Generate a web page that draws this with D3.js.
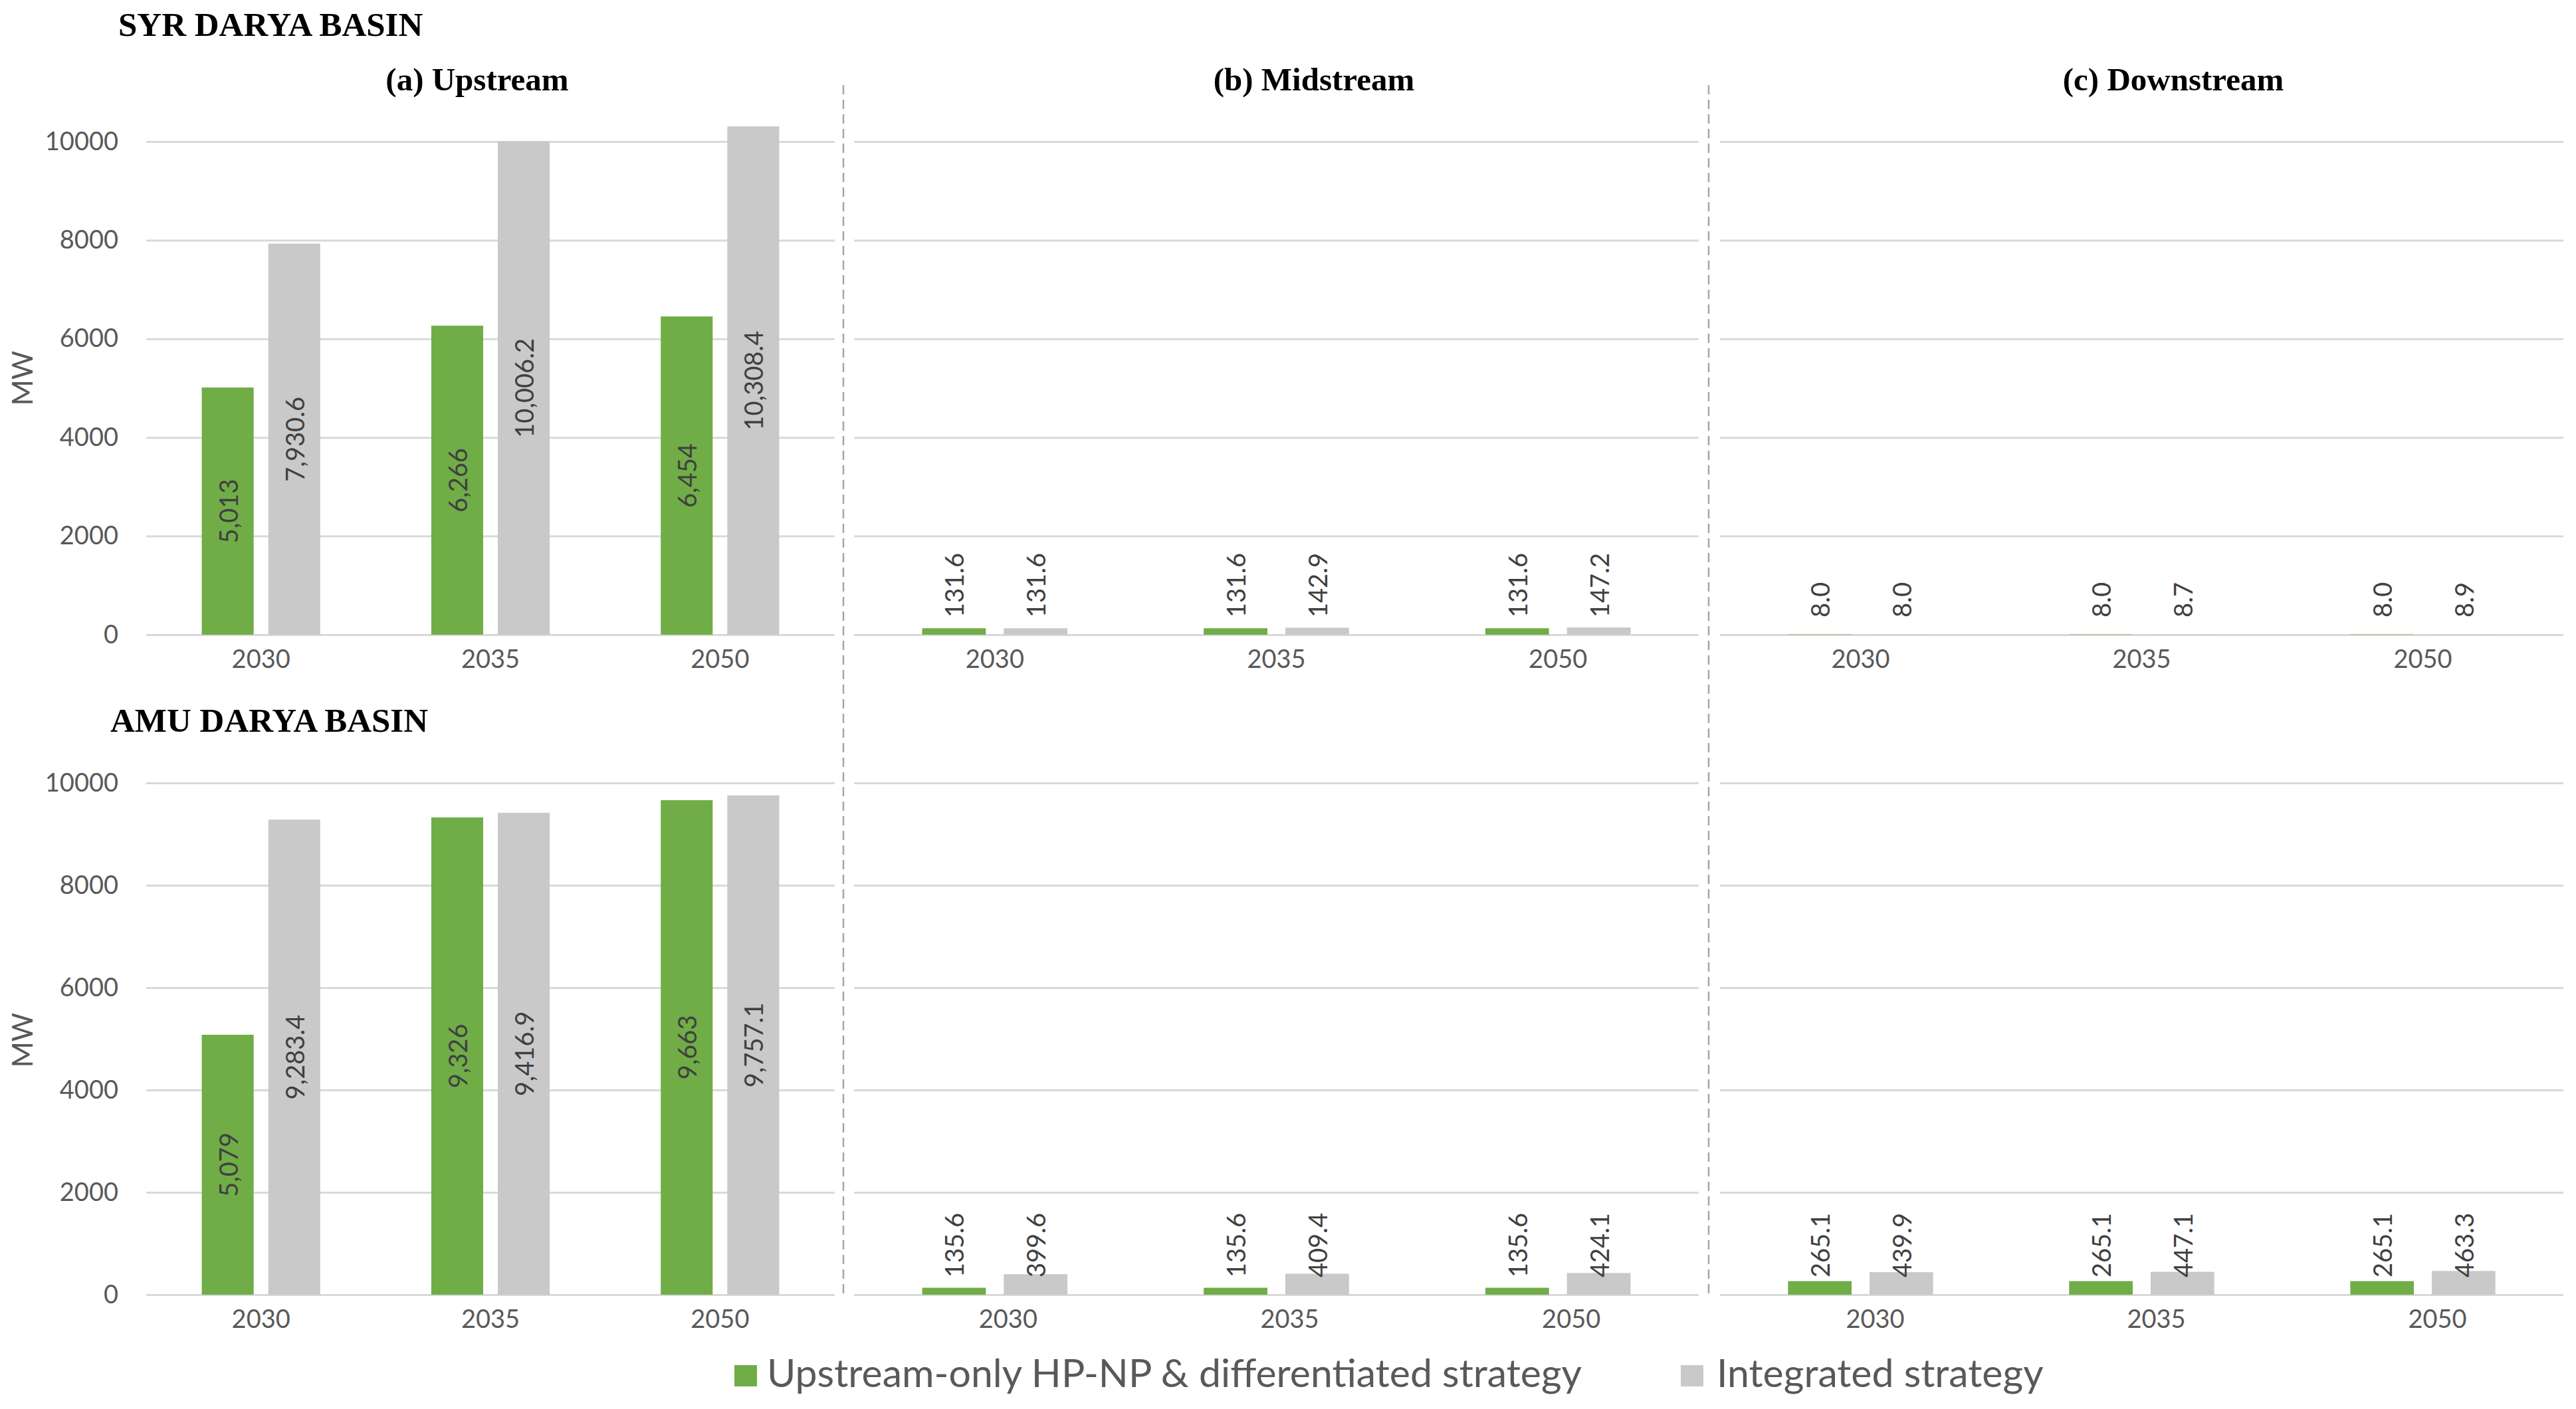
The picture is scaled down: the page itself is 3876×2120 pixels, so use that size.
<!DOCTYPE html>
<html>
<head>
<meta charset="utf-8">
<script src="https://cdn.jsdelivr.net/npm/d3@7"></script>
<style>
  html, body { margin: 0; padding: 0; background: #ffffff; }
  svg { display: block; }
</style>
</head>
<body>
<svg id="chart" width="3876" height="2120"></svg>
<script>
// ---------------- DATA ----------------
const categories = ["2030", "2035", "2050"];
const seriesNames = ["Upstream-only HP-NP & differentiated strategy", "Integrated strategy"];
const basins = ["SYR DARYA BASIN", "AMU DARYA BASIN"];
const panelTitles = ["(a) Upstream", "(b) Midstream", "(c) Downstream"];
const yTicks = [0, 2000, 4000, 6000, 8000, 10000];

// Syr Darya
const syrUpDiff = [5013, 6266, 6454];
const syrUpInt  = [7930.6, 10006.2, 10308.4];
const syrMidDiff = [131.6, 131.6, 131.6];
const syrMidInt  = [131.6, 142.9, 147.2];
const syrDownDiff = [8.0, 8.0, 8.0];
const syrDownInt  = [8.0, 8.7, 8.9];
// Amu Darya
const amuUpDiff = [5079, 9326, 9663];
const amuUpInt  = [9283.4, 9416.9, 9757.1];
const amuMidDiff = [135.6, 135.6, 135.6];
const amuMidInt  = [399.6, 409.4, 424.1];
const amuDownDiff = [265.1, 265.1, 265.1];
const amuDownInt  = [439.9, 447.1, 463.3];

// ---------------- STYLE / LAYOUT ----------------
const colors = ["#70AD47", "#C9C9C9"];
const gridColor = "#D9D9D9";
const axisText = "#595959";
const labelText = "#404040";
const sans = "Lato, 'Open Sans', sans-serif";
const serif = "'Liberation Serif', 'Times New Roman', serif";

const panelX = [[220, 1256], [1285, 2556], [2588, 3857]];
const rowY = [{ zero: 955, top: 213 }, { zero: 1948, top: 1178 }];
const titleX = [718, 1977, 3270];
const xLabelShift = [[0, 0, 0], [0, 20, 22]];

const data = [
  [[syrUpDiff, syrUpInt], [syrMidDiff, syrMidInt], [syrDownDiff, syrDownInt]],
  [[amuUpDiff, amuUpInt], [amuMidDiff, amuMidInt], [amuDownDiff, amuDownInt]]
];

const fmtInt = d3.format(",.0f");
const fmtDec = d3.format(",.1f");

const svg = d3.select("#chart");
svg.append("rect").attr("width", 3876).attr("height", 2120).attr("fill", "#fff");

// basin headings
svg.append("text").attr("x", 178).attr("y", 54).text(basins[0])
  .attr("font-family", serif).attr("font-weight", "bold").attr("font-size", 51).attr("fill", "#000");
svg.append("text").attr("x", 166).attr("y", 1101).text(basins[1])
  .attr("font-family", serif).attr("font-weight", "bold").attr("font-size", 51).attr("fill", "#000");

// panel titles
panelTitles.forEach((t, i) => {
  svg.append("text").attr("x", titleX[i]).attr("y", 136).attr("text-anchor", "middle").text(t)
    .attr("font-family", serif).attr("font-weight", "bold").attr("font-size", 49).attr("fill", "#000");
});

// dashed separators
[1269, 2571].forEach(x => {
  svg.append("line").attr("x1", x).attr("x2", x).attr("y1", 128).attr("y2", 1952)
    .attr("stroke", "#A6A6A6").attr("stroke-width", 2.5).attr("stroke-dasharray", "14,8");
});

rowY.forEach((r, ri) => {
  const y = d3.scaleLinear().domain([0, 10000]).range([r.zero, r.top]);

  // y axis labels (only left panel)
  const yAxis = d3.axisLeft(y).tickValues(yTicks).tickFormat(d3.format("d")).tickSize(0).tickPadding(0);
  const gy = svg.append("g").attr("transform", `translate(178,0)`).call(yAxis);
  gy.select(".domain").remove();
  gy.selectAll("text").attr("font-family", sans).attr("font-size", 38).attr("fill", axisText);

  // MW label
  const mwY = ri === 0 ? 569 : 1565;
  svg.append("text").attr("transform", `translate(33,${mwY}) rotate(-90)`)
    .attr("text-anchor", "middle").attr("dominant-baseline", "central")
    .text("MW").attr("font-family", sans).attr("font-size", 42).attr("fill", axisText);

  panelX.forEach((px, pi) => {
    const x0 = d3.scaleBand().domain(categories).range(px).paddingInner(0.484).paddingOuter(0.242);
    const x1 = d3.scaleBand().domain([0, 1]).range([0, x0.bandwidth()]).paddingInner(0.22).paddingOuter(0);

    // gridlines
    const grid = d3.axisLeft(y).tickValues(yTicks).tickSize(-(px[1] - px[0])).tickFormat("");
    const gg = svg.append("g").attr("transform", `translate(${px[0]},0)`).call(grid);
    gg.select(".domain").remove();
    gg.selectAll("line").attr("stroke", gridColor).attr("stroke-width", 3);

    // x axis labels
    const xAxis = d3.axisBottom(x0).tickSize(0).tickPadding(0);
    const gx = svg.append("g").attr("transform", `translate(${xLabelShift[ri][pi]},${r.zero + 50})`).call(xAxis);
    gx.select(".domain").remove();
    gx.selectAll("text").attr("font-family", sans).attr("font-size", 38).attr("fill", axisText)
      .attr("dy", "0");

    const series = data[ri][pi];
    series.forEach((vals, si) => {
      const g = svg.append("g");
      g.selectAll("rect").data(vals).join("rect")
        .attr("x", (d, i) => x0(categories[i]) + x1(si))
        .attr("width", x1.bandwidth())
        .attr("y", d => y(d))
        .attr("height", d => y(0) - y(d))
        .attr("fill", colors[si]);

      const fmt = (pi === 0 && si === 0) ? fmtInt : fmtDec;
      g.selectAll("text").data(vals).join("text")
        .attr("transform", (d, i) => {
          const cx = x0(categories[i]) + x1(si) + x1.bandwidth() / 2;
          const cy = pi === 0 ? (y(d) + y(0)) / 2 : y(0) - 26;
          return `translate(${cx},${cy}) rotate(-90)`;
        })
        .attr("text-anchor", pi === 0 ? "middle" : "start")
        .attr("dominant-baseline", "central")
        .attr("font-family", sans).attr("font-size", 38).attr("fill", labelText)
        .text(d => fmt(d));
    });
  });
});

// legend
const legend = [{ x: 1105, tx: 1154 }, { x: 2529, tx: 2583 }];
seriesNames.forEach((n, i) => {
  svg.append("rect").attr("x", legend[i].x).attr("y", 2054).attr("width", 34).attr("height", 32).attr("fill", colors[i]);
  svg.append("text").attr("x", legend[i].tx).attr("y", 2087).text(n)
    .attr("font-family", sans).attr("font-size", 59).attr("fill", axisText);
});
</script>
</body>
</html>
